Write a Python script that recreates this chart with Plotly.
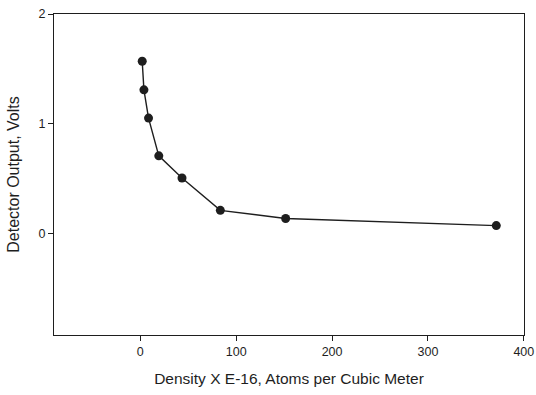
import plotly.graph_objects as go

density = [2, 3.8, 8.6, 19.3, 43.5, 83.5, 151.6, 371.3]
volts = [1.57, 1.31, 1.053, 0.71, 0.508, 0.214, 0.14, 0.075]
x_ticks = [0, 100, 200, 300, 400]
y_ticks = [0, 1, 2]

ink = "#1e1e1e"
fig = go.Figure(go.Scatter(
    x=density, y=volts, mode="lines+markers",
    line=dict(color=ink, width=1.4),
    marker=dict(color=ink, size=9),
    cliponaxis=False,
))
fig.update_layout(
    width=536, height=395,
    margin=dict(l=54, r=12, t=14, b=60),
    paper_bgcolor="white", plot_bgcolor="white",
    showlegend=False,
    font=dict(family="Liberation Sans, Arial", color=ink, size=12.5),
)
fig.update_xaxes(
    range=[-90, 400.2], tickvals=x_ticks, showgrid=False, zeroline=False,
    showline=True, linecolor=ink, linewidth=1.3, mirror=True,
    ticks="outside", ticklen=5, tickcolor=ink, automargin=False,
    ticklabeloverflow="allow",
    title=dict(text="Density X E-16, Atoms per Cubic Meter", font=dict(size=15.5), standoff=14),
)
fig.update_yaxes(
    range=[-0.92, 2], tickvals=y_ticks, showgrid=False, zeroline=False,
    showline=True, linecolor=ink, linewidth=1.3, mirror=True,
    ticks="outside", ticklen=5, tickcolor=ink, automargin=False,
    title=dict(text="Detector Output, Volts", font=dict(size=16), standoff=14),
)
fig.write_html("out.html")
